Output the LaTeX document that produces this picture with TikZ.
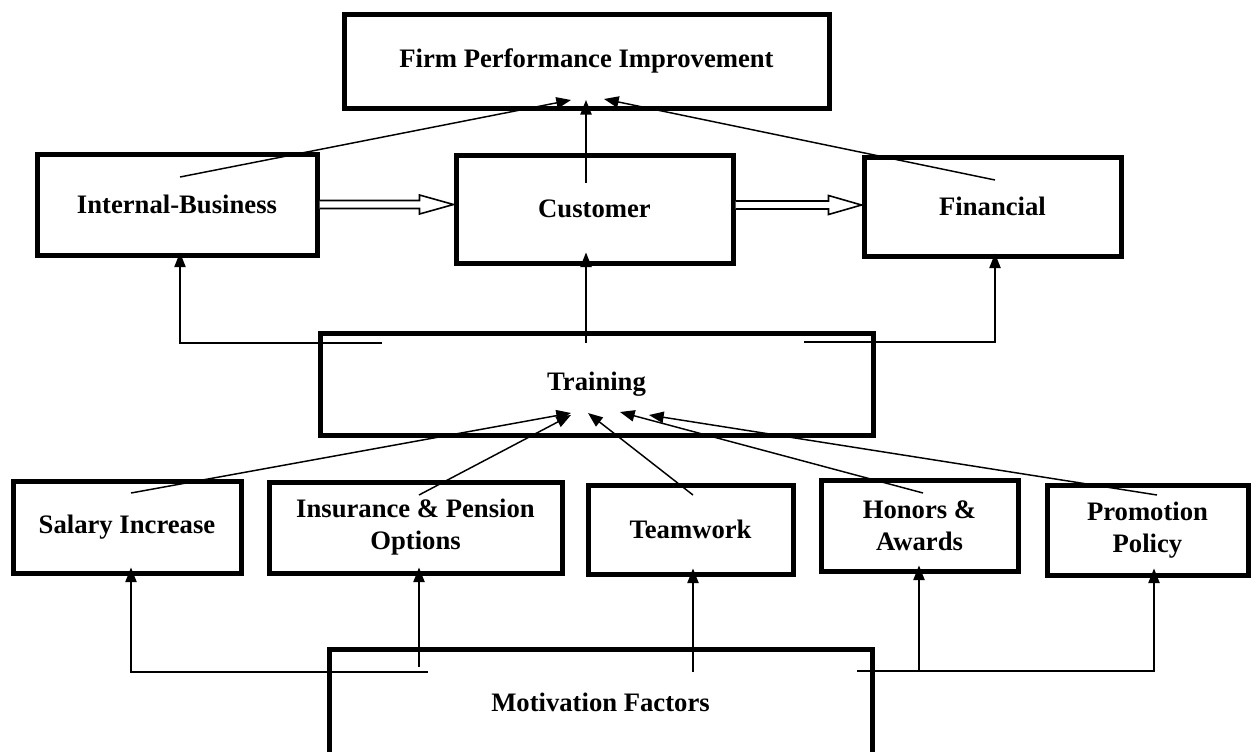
\documentclass[tikz,border=0pt]{standalone}
\usepackage{fontspec}
\setmainfont{Liberation Serif}
\usetikzlibrary{arrows.meta,calc}

\tikzset{
  box/.style={draw, line width=3.75pt, inner sep=0pt, align=center,
              font=\bfseries\fontsize{20}{24}\selectfont},
  sz/.style 2 args={minimum width=#1*0.75pt, minimum height=#2*0.75pt},
  link/.style={line width=1.1pt, -{Triangle[length=11pt,width=8.5pt]}},
  hollow/.style={line width=1.2pt, fill=white, line join=miter},
}

\begin{document}
\begin{tikzpicture}[x=0.75pt,y=-0.75pt]
  \useasboundingbox (0,0) rectangle (1254,751);
  \clip (0,0) rectangle (1254,751);

  % outcome and balanced-scorecard perspectives
  \node[box, sz={485}{94}]  (firm) at (586.5,61)  {Firm Performance Improvement};
  \node[box, sz={280}{101}] (ib)   at (177,204.5) {Internal-Business};
  \node[box, sz={277}{108}] (cu)   at (594.5,209) {Customer};
  \node[box, sz={257}{99}]  (fi)   at (992.5,206.5) {Financial};

  % training
  \node[box, sz={553}{102}] (tr)   at (596.5,384) {Training};

  % motivation factors
  \node[box, sz={228}{92}]  (sa)   at (127,527)   {Salary Increase};
  \node[box, sz={293}{91}]  (in)   at (415.5,527.5) {Insurance \& Pension\\Options};
  \node[box, sz={205}{89}]  (te)   at (690.5,529.5) {Teamwork};
  \node[box, sz={197}{91}]  (ho)   at (919.5,525.5) {Honors \&\\Awards};
  \node[box, sz={201}{90}]  (pr)   at (1147.5,530) {Promotion\\Policy};
  \node[box, sz={543}{107}] (mo)   at (600.5,702.5) {Motivation Factors};

  % perspectives feed firm performance
  \draw[link] ($(ib.center)+(3,-27.5)$) -- ($(firm.center)+(-15.5,39)$);
  \draw[link] ($(cu.center)+(-8.5,-26)$) -- ($(firm.center)+(-0.5,39)$);
  \draw[link] ($(fi.center)+(2.5,-26.5)$) -- ($(firm.center)+(17.5,38)$);

  % hollow block arrows between perspectives
  \draw[hollow] ($(ib.east)+(0,-4)$) -- ($(cu.west |- ib.east)+(-34,-4)$)
    -- ++(0,-5.5) -- (cu.west |- ib.east) -- ++(-34,9.5) -- ++(0,-5.5)
    -- ($(ib.east)+(0,4)$);
  \coordinate (cf) at ($(fi.west)+(0,-1.5)$);
  \draw[hollow] ($(cu.east |- cf)+(0,-4)$) -- ($(cf)+(-33,-4)$)
    -- ++(0,-5.5) -- (cf) -- ++(-33,9.5) -- ++(0,-5.5)
    -- ($(cu.east |- cf)+(0,4)$);

  % training feeds the perspectives
  \draw[link] ($(tr.center)+(-214.5,-41)$) -| ($(ib.south)+(3,-5)$);
  \draw[link] ($(tr.center)+(-10.5,-41)$) -- ($(cu.south)+(-8.5,-13)$);
  \draw[link] ($(tr.center)+(207.5,-42)$) -| ($(fi.south)+(2.5,-5)$);

  % motivation factors feed training
  \draw[link] ($(sa.center)+(4,-34)$)   -- ($(tr.center)+(-25.5,29)$);
  \draw[link] ($(in.center)+(3.5,-32.5)$) -- ($(tr.center)+(-25.5,31)$);
  \draw[link] ($(te.center)+(2.5,-34.5)$) -- ($(tr.center)+(-8.5,29)$);
  \draw[link] ($(ho.center)+(3.5,-32.5)$) -- ($(tr.center)+(23.5,28)$);
  \draw[link] ($(pr.center)+(9.5,-35)$)  -- ($(tr.center)+(52.5,31)$);

  % motivation factors branch to each factor
  \draw[link] ($(mo.center)+(-172.5,-30.5)$) -| ($(sa.south)+(4,-8)$);
  \draw[link] ($(mo.center)+(-181.5,-35.5)$) -- ($(in.south)+(3.5,-8)$);
  \draw[link] ($(mo.center)+(92.5,-30.5)$)   -- ($(te.south)+(2.5,-8)$);
  \coordinate (mr) at ($(mo.center)+(256.5,-31.5)$);
  \draw[link] (mr) -| ($(ho.south)+(-0.5,-8)$);
  \draw[link] (mr) -| ($(pr.south)+(6.5,-9)$);
\end{tikzpicture}
\end{document}
